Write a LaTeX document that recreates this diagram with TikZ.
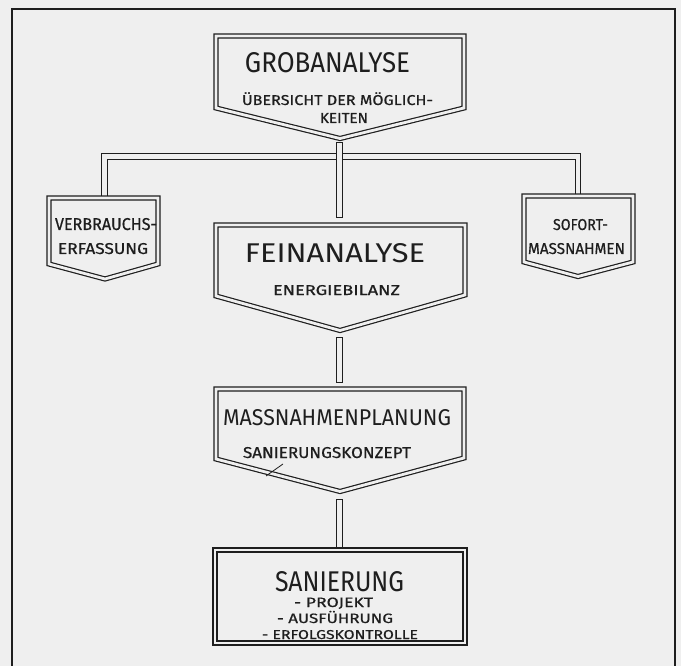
\documentclass[tikz,border=0pt]{standalone}
\usepackage{fontspec}
\setmainfont{Fira Sans}
\newfontfamily\handsmall[FakeBold=0.6]{Fira Sans}
\usepackage{graphicx}
\definecolor{bg}{HTML}{EFEFEF}
\definecolor{ink}{HTML}{1E1E1E}
\newcommand{\fitt}[3]{\resizebox{#1pt}{#2pt}{#3}}
\newcommand{\fits}[3]{\resizebox{#1pt}{#2pt}{\handsmall #3}}
\tikzset{
  boxline/.style={draw=ink, double=bg, line width=1.2pt, double distance=2.8pt, line join=miter},
  conn/.style={draw=ink, double=bg, line width=1.2pt, double distance=4.2pt, line cap=rect, line join=miter},
  lbl/.style={inner sep=0pt, anchor=base, text=ink},
  frameline/.style={draw=ink, line width=1.4pt}
}
\begin{document}
\begin{tikzpicture}[x=1pt,y=-1pt]
\fill[bg] (0,0) rectangle (681,666);
\useasboundingbox (0,0) rectangle (681,666);
% outer frame
\draw[frameline] (12,700) -- (12,9) -- (675,9) -- (675,700);
% anchor coordinates
\coordinate (grob-s) at (339.5,145.3);
\coordinate (fein-n) at (339.5,214.7);
\coordinate (busc) at (339.5,156.5);
\coordinate (verb-n) at (104.5,194);
\coordinate (sof-n) at (578,192);
\coordinate (fein-s) at (339.5,340.3);
\coordinate (mass-n) at (339.5,379.7);
\coordinate (mass-s) at (339.5,502.3);
\coordinate (san-n) at (339.5,546);
% connectors
\draw[conn] (verb-n) |- (busc) -| (sof-n);
\draw[conn] (grob-s) -- (fein-n);
\draw[conn] (fein-s) -- (mass-n);
\draw[conn] (mass-s) -- (san-n);
% boxes
\draw[boxline] (216,36) -- (464,36) -- (464,108) -- (340,138.5) -- (216,108) -- cycle;
\draw[boxline] (49,198) -- (158,198) -- (158,264) -- (105,279) -- (49,264) -- cycle;
\draw[boxline] (524,196) -- (633,196) -- (633,262) -- (578,276.5) -- (524,262) -- cycle;
\draw[boxline] (216,225) -- (465,225) -- (465,295) -- (340,330.5) -- (216,296) -- cycle;
\draw[boxline] (216,389) -- (464,389) -- (464,458) -- (340,491.5) -- (216,459) -- cycle;
\draw[boxline] (215,550) rectangle (465,643);
% leader stroke
\draw[ink, line width=0.8pt] (283,464) -- (266,476);
% labels
\node[lbl] (grob1) at (327.5,73) {\fitt{165}{20}{GROBANALYSE}};
\node[lbl] (grob2) at (337.5,105) {\fits{191}{10}{\smash{Ü}BERSICHT DER M\smash{Ö}GLICH-}};
\node[lbl] (grob3) at (344,123) {\fits{48}{10}{KEITEN}};
\node[lbl] (verb1) at (106,230) {\fits{102}{12}{VERBRAUCHS-}};
\node[lbl] (verb2) at (103,254) {\fits{90}{11}{ERFASSUNG}};
\node[lbl] (sof1) at (580.5,230) {\fits{55}{11}{SOFORT-}};
\node[lbl] (sof2) at (576.5,254) {\fits{97}{11}{MASSNAHMEN}};
\node[lbl] (fein1) at (335,262) {\fitt{180}{19}{FEINANALYSE}};
\node[lbl] (fein2) at (336.5,295) {\fits{127}{10}{ENERGIEBILANZ}};
\node[lbl] (mass1) at (337,425) {\fitt{228}{16}{MASSNAHMENPLANUNG}};
\node[lbl] (mass2) at (327,458) {\fits{168}{11}{SANIERUNGSKONZEPT}};
\node[lbl] (san1) at (339.5,591) {\fitt{129}{20}{SANIERUNG}};
\node[lbl] (san2) at (333.5,607) {\fits{79}{9.5}{- PROJEKT}};
\node[lbl] (san3) at (335,623) {\fits{116}{9.5}{- AUSF\smash{Ü}HRUNG}};
\node[lbl] (san4) at (340,639) {\fits{156}{9}{- ERFOLGSKONTROLLE}};
\end{tikzpicture}
\end{document}
